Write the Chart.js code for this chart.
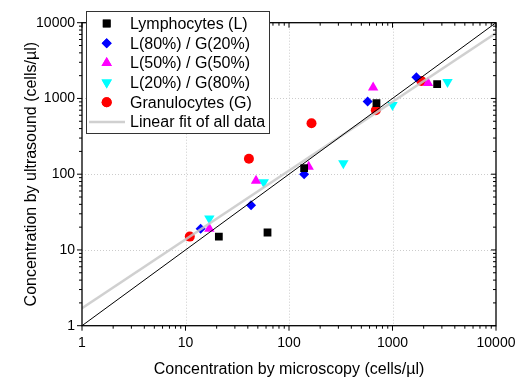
<!DOCTYPE html>
<html><head><meta charset="utf-8">
<script src="https://cdn.jsdelivr.net/npm/chart.js@4/dist/chart.umd.min.js"></script>
<style>html,body{margin:0;padding:0;background:#fff}#wrap{width:516px;height:380px;position:relative}</style>
</head><body><div id="wrap"><canvas id="c" width="516" height="380"></canvas></div>
<script>
const xTicks=[1,10,100,1000,10000];
const yTicks=[1,10,100,1000,10000];
const lymphX=[21,62,140,700,2700];
const lymphY=[15,17,120,870,1550];
const l80X=[14,43,140,575,1700];
const l80Y=[19,39,100,910,1900];
const l50X=[17,48,155,650,2200];
const l50Y=[19,82,125,1400,1600];
const l20X=[17,57,335,1000,3400];
const l20Y=[26,78,140,820,1650];
const granX=[11,41,165,690,1900];
const granY=[15,160,470,700,1700];
const fitX=[1,10000];
const fitY=[1.7,7300];
const idX=[1,10000];
const idY=[1,10000];
const labels=['Lymphocytes (L)','L(80%) / G(20%)','L(50%) / G(50%)','L(20%) / G(80%)','Granulocytes (G)','Linear fit of all data'];
const xTitle='Concentration by microscopy (cells/\u00b5l)';
const yTitle='Concentration by ultrasound (cells/\u00b5l)';

function pts(xs,ys){return xs.map((x,i)=>({x:x,y:ys[i]}));}
const FONT='"Liberation Sans", Arial, sans-serif';

const datasets=[
 {label:labels[0],data:pts(lymphX,lymphY),pointStyle:'rect',pointRadius:5.5,backgroundColor:'#000',borderWidth:0,order:2},
 {label:labels[1],data:pts(l80X,l80Y),pointStyle:'rectRot',pointRadius:5,backgroundColor:'#0000ff',borderWidth:0,order:2},
 {label:labels[2],data:pts(l50X,l50Y),pointStyle:'triangle',pointRadius:6,backgroundColor:'#ff00ff',borderWidth:0,order:2},
 {label:labels[3],data:pts(l20X,l20Y),pointStyle:'triangle',pointRotation:180,pointRadius:6,backgroundColor:'#00ffff',borderWidth:0,order:2},
 {label:labels[4],data:pts(granX,granY),pointStyle:'circle',pointRadius:5,backgroundColor:'#ff0000',borderWidth:0,order:2},
 {label:labels[5],data:pts(fitX,fitY),showLine:true,pointRadius:0,borderColor:'rgba(200,200,200,0.85)',borderWidth:2.5,order:1},
 {label:'y=x',data:pts(idX,idY),showLine:true,pointRadius:0,borderColor:'#000',borderWidth:1,order:0}
];

const axesPlugin={
 id:'axesPlugin',
 beforeDatasetsDraw(chart){
  const ctx=chart.ctx,a=chart.chartArea,xs=chart.scales.x,ys=chart.scales.y;
  ctx.save();
  ctx.strokeStyle='#cccccc';ctx.lineWidth=1;ctx.setLineDash([1,2]);
  xTicks.slice(1,-1).forEach(v=>{const p=Math.round(xs.getPixelForValue(v))+0.5;ctx.beginPath();ctx.moveTo(p,a.top);ctx.lineTo(p,a.bottom);ctx.stroke();});
  yTicks.slice(1,-1).forEach(v=>{const p=Math.round(ys.getPixelForValue(v))+0.5;ctx.beginPath();ctx.moveTo(a.left,p);ctx.lineTo(a.right,p);ctx.stroke();});
  ctx.restore();
 },
 afterDatasetsDraw(chart){
  const ctx=chart.ctx,a=chart.chartArea,xs=chart.scales.x,ys=chart.scales.y;
  ctx.save();
  ctx.strokeStyle='#000';ctx.lineWidth=1.3;ctx.setLineDash([]);
  ctx.strokeRect(a.left,a.top,a.right-a.left,a.bottom-a.top);
  ctx.lineWidth=1;
  const minors=[];
  for(let d=0;d<4;d++){for(let m=2;m<10;m++)minors.push(m*Math.pow(10,d));}
  ctx.beginPath();
  xTicks.forEach(v=>{const p=xs.getPixelForValue(v);ctx.moveTo(p,a.bottom);ctx.lineTo(p,a.bottom+5);ctx.moveTo(p,a.top);ctx.lineTo(p,a.top+5);});
  minors.forEach(v=>{const p=xs.getPixelForValue(v);ctx.moveTo(p,a.bottom);ctx.lineTo(p,a.bottom+3);ctx.moveTo(p,a.top);ctx.lineTo(p,a.top+3);});
  yTicks.forEach(v=>{const p=ys.getPixelForValue(v);ctx.moveTo(a.left-5,p);ctx.lineTo(a.left,p);ctx.moveTo(a.right,p);ctx.lineTo(a.right-5,p);});
  minors.forEach(v=>{const p=ys.getPixelForValue(v);ctx.moveTo(a.left-3,p);ctx.lineTo(a.left,p);ctx.moveTo(a.right,p);ctx.lineTo(a.right-3,p);});
  ctx.stroke();
  ctx.fillStyle='#000';ctx.font='14px '+FONT;
  ctx.textAlign='center';ctx.textBaseline='middle';
  xTicks.forEach(v=>{ctx.fillText(String(v),xs.getPixelForValue(v),a.bottom+17);});
  ctx.textAlign='right';
  yTicks.forEach(v=>{ctx.fillText(String(v),a.left-7,ys.getPixelForValue(v));});
  ctx.font='16px '+FONT;ctx.textAlign='center';
  ctx.fillText(xTitle,(a.left+a.right)/2,370);
  ctx.save();ctx.translate(32,(a.top+a.bottom)/2);ctx.rotate(-Math.PI/2);ctx.fillText(yTitle,0,0);ctx.restore();
  // legend
  const lx=86,ly=11,lw=183,lh=122;
  ctx.fillStyle='#fff';ctx.fillRect(lx,ly,lw,lh);
  ctx.strokeStyle='#333';ctx.lineWidth=1;ctx.strokeRect(lx+0.5,ly+0.5,lw,lh);
  ctx.font='16px '+FONT;ctx.textAlign='left';ctx.textBaseline='middle';
  for(let i=0;i<6;i++){
   const ds=chart.data.datasets[i];const y=23.5+i*19.7;
   if(i<5){
    ctx.fillStyle=ds.backgroundColor;
    Chart.helpers.drawPoint(ctx,{pointStyle:ds.pointStyle,radius:ds.pointRadius,rotation:ds.pointRotation||0,borderWidth:0},106.7,y);
    ctx.fill();
   }else{
    ctx.strokeStyle=ds.borderColor;ctx.lineWidth=2.5;ctx.beginPath();ctx.moveTo(89,y);ctx.lineTo(125,y);ctx.stroke();
   }
   ctx.fillStyle='#000';ctx.fillText(ds.label,130,y+1);
  }
  ctx.restore();
 }
};

new Chart(document.getElementById('c'),{
 type:'scatter',
 data:{datasets:datasets},
 options:{
  responsive:false,animation:false,devicePixelRatio:1,
  layout:{padding:{left:82,right:20,top:22.7,bottom:54.3}},
  plugins:{legend:{display:false},tooltip:{enabled:false}},
  scales:{
   x:{type:'logarithmic',min:1,max:10000,display:false},
   y:{type:'logarithmic',min:1,max:10000,display:false}
  }
 },
 plugins:[axesPlugin]
});
</script></body></html>
